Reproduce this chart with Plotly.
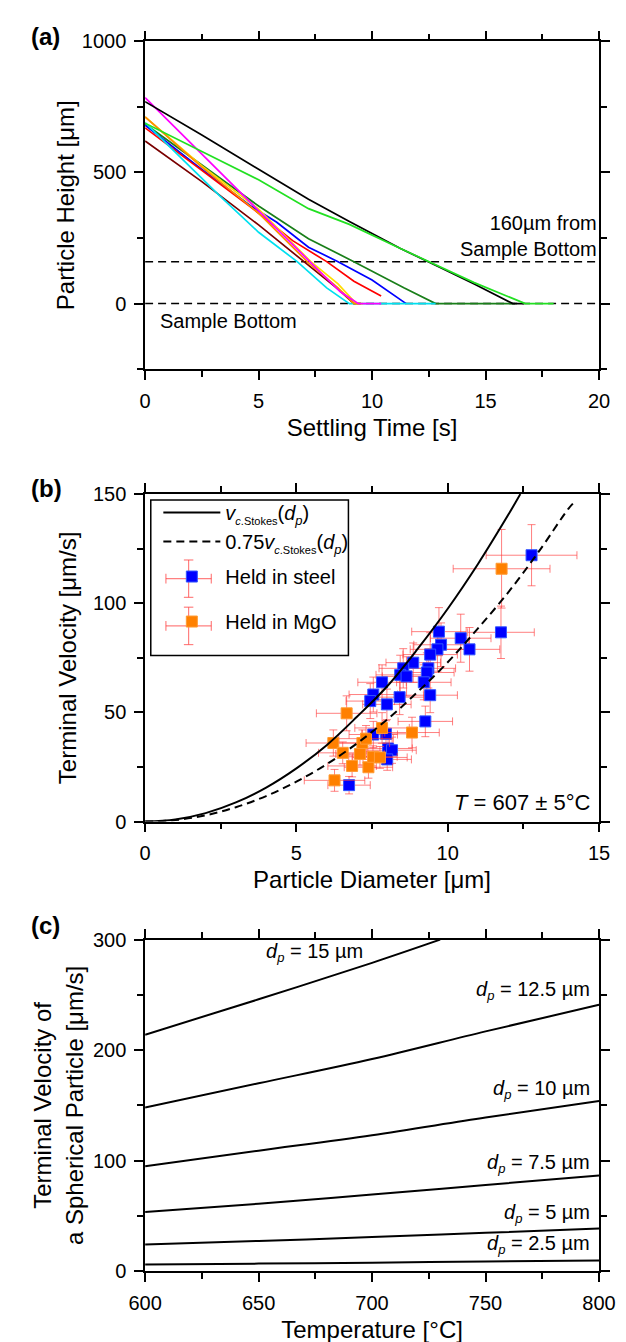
import plotly.graph_objects as go

W, H = 626, 1342
FONT = "Liberation Sans, Arial, sans-serif"

# ---------- (a) particle tracks: settling time [s] vs height [um]
t_black = [0, 2.5, 5, 7.2, 9, 11.25, 13, 14.5, 16.2, 16.7]
h_black = [770, 643, 512, 398, 313, 210, 138, 75, 0, 0]
t_lime = [0, 2.5, 5, 7.2, 9, 11.25, 13, 14.5, 16.75, 18]
h_lime = [688, 580, 472, 362, 302, 210, 140, 80, 0, 0]
t_magenta = [0, 2, 3.5, 5, 7.2, 8.6, 9.4, 10.4]
h_magenta = [785, 612, 482, 352, 165, 45, 0, 0]
t_orange = [0, 2.5, 5, 7.2, 8.5, 9.2, 9.5]
h_orange = [712, 520, 345, 155, 60, 0, 0]
t_yellow = [0, 2.5, 5, 7.3, 8.5, 9.3, 9.6]
h_yellow = [712, 525, 360, 160, 75, 0, 0]
t_cyan = [0, 1.7, 3.3, 5, 6.7, 8, 9.0, 12.8]
h_cyan = [690, 547, 410, 272, 160, 60, 0, 0]
t_red = [0, 2.3, 4.7, 6.5, 8, 9.2, 10.4]
h_red = [670, 520, 365, 240, 160, 85, 29]
t_blue = [0, 2.3, 4.7, 5.8, 7.2, 8.5, 10, 10.7, 11.5]
h_blue = [680, 525, 370, 310, 215, 160, 90, 48, 0]
t_dkgreen = [0, 2.5, 5, 7.2, 9.2, 11.4, 12.8, 16.3]
h_dkgreen = [685, 530, 372, 247, 160, 60, 0, 0]
t_brown = [0, 2.5, 5, 7, 8.5, 9.2, 9.5]
h_brown = [620, 465, 300, 160, 55, 0, 0]
ref_heights = [160, 0]

# ---------- (b) terminal velocity vs particle diameter
d_stokes = [0, 1, 2, 3, 4, 5, 6, 7, 8, 9, 10, 11, 12, 12.4]
v_stokes = [0, 1, 3.9, 8.8, 15.6, 24.4, 35, 48, 62, 79, 97.5, 118, 140.5, 150]
d_stokes75 = [0, 1, 2, 3, 4, 5, 6, 7, 8, 9, 10, 11, 12, 13, 14, 14.2]
v_stokes75 = [0, 0.7, 2.9, 6.6, 11.7, 18.3, 26.3, 35.8, 46.8, 59.3, 73, 88.5, 105, 123.5, 143.5, 146.5]

d_steel = [12.77, 11.76, 10.72, 10.43, 9.78, 9.71, 9.66, 9.42, 8.86, 9.36, 9.31, 8.53, 8.43, 8.64,
           9.21, 7.83, 7.54, 7.44, 8.41, 7.99, 9.42, 9.26, 7.54, 7.96, 8.03, 8.16, 8.0, 6.74]
v_steel = [122, 86.7, 78.9, 84.0, 81.0, 87.0, 78.9, 76.5, 72.8, 70.2, 68.3, 70.2, 67.2, 66.5,
           63.8, 63.8, 58.2, 55.2, 57.0, 53.7, 57.9, 45.9, 39.9, 40.2, 33.5, 32.7, 28.5, 16.7]
dx_steel = [1.5, 1.1, 1.0, 1.0, 0.9, 0.9, 0.9, 0.9, 0.9, 0.9, 0.9, 0.8, 0.8, 0.8,
            0.9, 0.8, 0.8, 0.8, 0.8, 0.8, 0.9, 0.9, 0.8, 0.8, 0.8, 0.8, 0.8, 0.7]
dv_steel = [14, 12, 10, 11, 10, 11, 10, 10, 9, 9, 9, 9, 9, 9,
            8, 8, 8, 8, 8, 7, 8, 7, 6, 6, 6, 6, 5, 4]

d_mgo = [11.78, 6.66, 7.83, 8.82, 6.22, 7.18, 6.53, 7.3, 6.84, 7.38, 7.53, 7.76, 6.26, 7.1]
v_mgo = [115.8, 49.6, 42.9, 40.8, 36.0, 36.0, 31.5, 38.0, 25.5, 24.9, 29.7, 29.4, 18.9, 31.0]
dx_mgo = [1.6, 1.0, 0.9, 0.9, 0.9, 0.9, 0.8, 0.9, 0.8, 0.8, 0.8, 0.9, 1.0, 0.8]
dv_mgo = [18, 8, 7, 7, 6, 6, 5, 6, 5, 5, 5, 5, 5, 5]

# ---------- (c) terminal velocity vs temperature for several diameters
T_c = [600, 650, 700, 750, 800]
v_dp25 = [6, 6.8, 7.7, 8.7, 9.6]
v_dp5 = [24, 27.3, 30.8, 34.7, 38.5]
v_dp75 = [53.5, 61, 69.3, 78, 86.6]
v_dp10 = [95, 109, 123, 139, 154]
v_dp125 = [148, 170, 192, 217, 241]
T_dp15 = [600, 650, 700, 730]
v_dp15 = [214, 246, 279, 300]
dp_names = ["2.5", "5", "7.5", "10", "12.5", "15"]


def px(x):
    return x / W


def py(y):
    return 1 - y / H


XDOM = [px(127), px(607)]

fig = go.Figure()

# (a)
for yv in ref_heights:
    fig.add_trace(go.Scatter(x=[0, 20], y=[yv, yv], mode="lines", showlegend=False,
                             line=dict(color="black", width=1.5, dash="8px,5px"),
                             xaxis="x", yaxis="y"))
tracks = [
    (t_brown, h_brown, "#7a0000"),
    (t_dkgreen, h_dkgreen, "#1a7f1a"),
    (t_blue, h_blue, "#0000ff"),
    (t_red, h_red, "#ff0000"),
    (t_cyan, h_cyan, "#00e0f0"),
    (t_yellow, h_yellow, "#ffdd00"),
    (t_orange, h_orange, "#ff8c00"),
    (t_magenta, h_magenta, "#ff00ff"),
    (t_black, h_black, "#000000"),
    (t_lime, h_lime, "#22e022"),
]
for tt, hh, c in tracks:
    fig.add_trace(go.Scatter(x=tt, y=hh, mode="lines", showlegend=False,
                             line=dict(color=c, width=1.7), xaxis="x", yaxis="y"))

# (b)
err_col = "rgba(255,60,60,0.65)"
fig.add_trace(go.Scatter(
    x=d_steel, y=v_steel, mode="markers", name="Held in steel",
    marker=dict(symbol="square", size=11, color="#0000ff", line=dict(color="#3355ff", width=1)),
    error_x=dict(type="data", array=dx_steel, color=err_col, thickness=1, width=4),
    error_y=dict(type="data", array=dv_steel, color=err_col, thickness=1, width=4),
    xaxis="x2", yaxis="y2", legend="legend2", legendgroup="steel"))
fig.add_trace(go.Scatter(
    x=d_mgo, y=v_mgo, mode="markers", name="Held in MgO",
    marker=dict(symbol="square", size=11, color="#ff8000", line=dict(color="#ff9a33", width=1)),
    error_x=dict(type="data", array=dx_mgo, color=err_col, thickness=1, width=4),
    error_y=dict(type="data", array=dv_mgo, color=err_col, thickness=1, width=4),
    xaxis="x2", yaxis="y2", legend="legend2", legendgroup="mgo"))
sub_stokes = "<sub><span style='font-size:11px'><i>c</i>.Stokes</span></sub>"
sub_p = "<sub><span style='font-size:13px'><i>p</i></span></sub>"
fig.add_trace(go.Scatter(
    x=d_stokes, y=v_stokes, mode="lines", line_shape="spline",
    name="<i>v</i>" + sub_stokes + "(<i>d</i>" + sub_p + ")",
    line=dict(color="black", width=2), xaxis="x2", yaxis="y2", legend="legend"))
fig.add_trace(go.Scatter(
    x=d_stokes75, y=v_stokes75, mode="lines", line_shape="spline",
    name="0.75<i>v</i>" + sub_stokes + "(<i>d</i>" + sub_p + ")",
    line=dict(color="black", width=2, dash="8px,5px"), xaxis="x2", yaxis="y2", legend="legend"))

# (c)
for vv in [v_dp25, v_dp5, v_dp75, v_dp10, v_dp125]:
    fig.add_trace(go.Scatter(x=T_c, y=vv, mode="lines", showlegend=False, line_shape="spline",
                             line=dict(color="black", width=2), xaxis="x3", yaxis="y3"))
fig.add_trace(go.Scatter(x=T_dp15, y=v_dp15, mode="lines", showlegend=False, line_shape="spline",
                         line=dict(color="black", width=2), xaxis="x3", yaxis="y3"))


def axis(rng, dtick, minor, domain, title, standoff, anchor):
    return dict(
        range=rng, dtick=dtick, domain=domain, anchor=anchor,
        showline=True, linecolor="black", linewidth=1.5, mirror="ticks",
        ticks="outside", ticklen=9, tickwidth=1.5, tickcolor="black",
        showgrid=False, zeroline=False, ticklabelstandoff=4,
        tickfont=dict(size=20, color="black", family=FONT),
        minor=dict(dtick=minor, ticks="outside", ticklen=6, tickwidth=1.5,
                   tickcolor="black", showgrid=False),
        title=dict(text=title, font=dict(size=24, color="black", family=FONT), standoff=standoff),
    )


ya = [py(356), py(22.7)]
yb = [py(816), py(483)]
yc = [py(1273), py(936)]

leg_font = dict(size=20, color="black", family=FONT)
layout = dict(
    width=W, height=H, autosize=False,
    margin=dict(l=0, r=0, t=0, b=0),
    paper_bgcolor="white", plot_bgcolor="white",
    font=dict(family=FONT, color="black"),
    xaxis=axis([0, 20], 5, 2.5, XDOM, "Settling Time [s]", 8, "y"),
    yaxis=axis([-250, 1000], 500, 250, ya, "Particle Height [μm]", 0, "x"),
    xaxis2=axis([0, 15], 5, 2.5, XDOM, "Particle Diameter [μm]", 8, "y2"),
    yaxis2=axis([0, 150], 50, 25, yb, "Terminal Velocity [μm/s]", 10, "x2"),
    xaxis3=axis([600, 800], 50, 25, XDOM, "Temperature [°C]", 8, "y3"),
    yaxis3=axis([0, 300], 100, 50, yc, "Terminal Velocity of<br>a Spherical Particle [μm/s]", 3, "x3"),
    legend=dict(x=px(141), y=py(482), xanchor="left", yanchor="top",
                bgcolor="rgba(0,0,0,0)", borderwidth=0, itemwidth=57, font=leg_font),
    legend2=dict(x=px(141), y=py(547), xanchor="left", yanchor="top",
                 bgcolor="rgba(0,0,0,0)", borderwidth=0, itemwidth=57, font=leg_font,
                 traceorder="grouped", tracegroupgap=16),
    showlegend=True,
)
fig.update_layout(**layout)

ann = []
for lab, yy in [("(a)", 18), ("(b)", 477), ("(c)", 922)]:
    ann.append(dict(text="<b>%s</b>" % lab, x=px(4), y=py(yy), xref="paper", yref="paper",
                    xanchor="left", yanchor="middle", showarrow=False,
                    font=dict(size=24, color="black", family=FONT)))
ann.append(dict(text="160µm from<br>Sample Bottom", x=20.0, y=257, xref="x", yref="y",
                xanchor="right", yanchor="middle", align="right", showarrow=False,
                font=dict(size=20, color="black")))
ann.append(dict(text="Sample Bottom", x=0.55, y=-67, xref="x", yref="y",
                xanchor="left", yanchor="middle", showarrow=False,
                font=dict(size=20, color="black")))
ann.append(dict(text="<i>T</i> = 607 ± 5°C", x=14.8, y=8.6, xref="x2", yref="y2",
                xanchor="right", yanchor="middle", showarrow=False,
                font=dict(size=22, color="black")))
dp_pos = {"2.5": (797, 24.5), "5": (797, 52), "7.5": (797, 97), "10": (797, 164),
          "12.5": (797, 254), "15": (697, 288)}
for nm in dp_names:
    xx, yy = dp_pos[nm]
    ann.append(dict(text="<i>d</i>" + sub_p + " = %s µm" % nm, x=xx, y=yy, xref="x3", yref="y3",
                    xanchor="right", yanchor="middle", showarrow=False,
                    font=dict(size=20, color="black")))
fig.update_layout(annotations=ann)

# legend frame and error-bar keys
shapes = [dict(type="rect", xref="paper", yref="paper", x0=px(133), x1=px(342),
               y0=py(647), y1=py(489), line=dict(color="black", width=1.5),
               fillcolor="white", layer="below")]
for cy in [569, 617]:
    cx = 173
    segs = [(cx - 24, cy, cx + 24, cy), (cx, cy - 19, cx, cy + 19),
            (cx - 24, cy - 5, cx - 24, cy + 5), (cx + 24, cy - 5, cx + 24, cy + 5),
            (cx - 5, cy - 19, cx + 5, cy - 19), (cx - 5, cy + 19, cx + 5, cy + 19)]
    for x0, y0, x1, y1 in segs:
        shapes.append(dict(type="line", xref="paper", yref="paper", x0=px(x0), x1=px(x1),
                           y0=py(y0), y1=py(y1), line=dict(color=err_col, width=1.2)))
fig.update_layout(shapes=shapes)

fig.write_html("out.html")
